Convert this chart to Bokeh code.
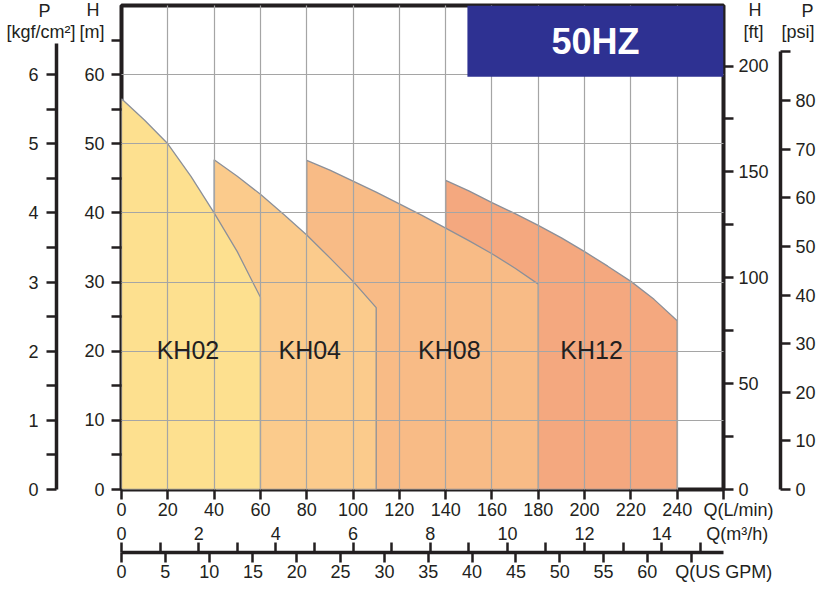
from bokeh.plotting import figure
from bokeh.models import Range1d, LinearAxis, FixedTicker, BoxAnnotation, Label
from bokeh.embed import file_html
from bokeh.resources import INLINE

# ---------------- data ----------------
kh02_q = [0, 10, 20, 30, 40, 50, 60]
kh02_h = [56.5, 53.4, 50.0, 45.3, 40.0, 34.4, 27.8]
kh04_q = [40, 50, 60, 70, 80, 90, 100, 110]
kh04_h = [47.7, 45.3, 42.7, 39.8, 36.8, 33.5, 30.1, 26.3]
kh08_q = [80, 90, 100, 110, 120, 130, 140, 150, 160, 170, 180]
kh08_h = [47.6, 46.2, 44.6, 43.0, 41.3, 39.6, 37.8, 36.0, 34.1, 32.0, 29.7]
kh12_q = [140, 150, 160, 170, 180, 190, 200, 210, 220, 230, 240]
kh12_h = [44.7, 43.2, 41.5, 39.9, 38.2, 36.4, 34.4, 32.3, 30.1, 27.5, 24.4]

series_names = ["KH02", "KH04", "KH08", "KH12"]
series_colors = ["#FDE08F", "#FBCB8C", "#F8BB86", "#F4A87F"]
label_q = [28.7, 81.3, 141.6, 203.0]
label_h = [20.2, 20.2, 20.2, 20.2]

q_lmin_ticks = [0, 20, 40, 60, 80, 100, 120, 140, 160, 180, 200, 220, 240, 260]
h_m_ticks = [0, 10, 20, 30, 40, 50, 60]
h_m_marks = [0, 5, 10, 15, 20, 25, 30, 35, 40, 45, 50, 55, 60, 65]
p_kgf_ticks = [0, 1, 2, 3, 4, 5, 6]
p_kgf_minor = [0.5, 1.5, 2.5, 3.5, 4.5, 5.5]
h_ft_ticks = [0, 50, 100, 150, 200]
h_ft_marks = [0, 25, 50, 75, 100, 125, 150, 175, 200]
p_psi_ticks = [0, 10, 20, 30, 40, 50, 60, 70, 80, 90]
q_m3h_ticks = [0, 1, 2, 3, 4, 5, 6, 7, 8, 9, 10, 11, 12, 13, 14, 15]
q_m3h_labels = [0, 2, 4, 6, 8, 10, 12, 14]
q_gpm_ticks = [0, 5, 10, 15, 20, 25, 30, 35, 40, 45, 50, 55, 60, 65]

# axis titles (two lines each, placed at these heights in m)
title_h = [69.4, 66.2]
NB = "\u00a0"

# unit conversions
Q_MAX = 260.0          # L/min
H_MAX = 70.0           # m
LMIN_PER_M3H = 1000.0 / 60.0
LMIN_PER_GPM = 3.78541
M_PER_KGF = 10.0
FT_TOP = 228.6
PSI_PER_M = 1.42233

INK = "#231F20"
FONT = "Liberation Sans"
FS = "18px"

p = figure(width=819, height=584, x_range=Range1d(0, Q_MAX), y_range=Range1d(0, H_MAX),
           output_backend="svg", toolbar_location=None,
           min_border_left=121, min_border_right=96, min_border_top=5, min_border_bottom=94)
p.background_fill_color = "white"
p.border_fill_color = "white"
p.outline_line_color = INK
p.outline_line_width = 4
p.outline_line_alpha = 1.0

p.extra_y_ranges = {
    "kgf": Range1d(0, H_MAX / M_PER_KGF),
    "ft": Range1d(0, FT_TOP),
    "psi": Range1d(0, H_MAX * PSI_PER_M),
}
p.extra_x_ranges = {
    "m3h": Range1d(0, Q_MAX / LMIN_PER_M3H),
    "gpm": Range1d(0, Q_MAX / LMIN_PER_GPM),
}

# ---------------- grid ----------------
p.xgrid.ticker = FixedTicker(ticks=q_lmin_ticks)
p.ygrid.ticker = FixedTicker(ticks=h_m_ticks + [70])
for g in (p.xgrid[0], p.ygrid[0]):
    g.grid_line_color = "#A5A5A5"
    g.grid_line_width = 1.2
    g.level = "annotation"


def style_axis(ax, standoff):
    ax.major_label_text_font = FONT
    ax.major_label_text_font_size = FS
    ax.major_label_text_color = INK
    ax.major_label_standoff = standoff
    ax.major_tick_line_color = INK
    ax.minor_tick_line_color = INK
    ax.major_tick_line_width = 2.5
    ax.minor_tick_line_width = 2.5
    ax.major_tick_in = 0
    ax.minor_tick_in = 0
    ax.major_tick_out = 10
    ax.minor_tick_out = 10
    ax.axis_line_color = INK
    ax.axis_line_width = 3.5


def spacer(size, **kw):
    return LinearAxis(ticker=FixedTicker(ticks=[0]), major_label_overrides={0: ""},
                      major_label_text_font_size="0px",
                      major_label_standoff=0, major_tick_out=size, major_tick_in=0,
                      minor_tick_out=0, major_tick_line_color=None, minor_tick_line_color=None,
                      axis_line_color=None, **kw)


def title_axis(labels, standoff, **kw):
    ax = LinearAxis(ticker=FixedTicker(ticks=title_h),
                    major_label_overrides=dict(zip(title_h, labels)), **kw)
    style_axis(ax, standoff)
    ax.axis_line_color = None
    ax.major_tick_out = 0
    ax.minor_tick_out = 0
    ax.major_tick_line_color = None
    ax.minor_tick_line_color = None
    return ax


# ---------------- left axes ----------------
ay = p.yaxis[0]
ay.ticker = FixedTicker(ticks=h_m_ticks + title_h, minor_ticks=h_m_marks)
ay.major_label_overrides = {title_h[0]: "H" + NB, title_h[1]: "[m]"}
style_axis(ay, 7)
ay.axis_line_color = None
ay.major_tick_line_color = None

p.add_layout(spacer(20), "left")

ak = LinearAxis(y_range_name="kgf", ticker=FixedTicker(ticks=p_kgf_ticks, minor_ticks=p_kgf_minor),
                bounds=(0, 6.45))
style_axis(ak, 8)
p.add_layout(ak, "left")

p.add_layout(title_axis(["P" + NB * 5, "[kgf/cm²]"], -50), "left")

# ---------------- right axes ----------------
ft_title = [v * FT_TOP / H_MAX for v in title_h]
af = LinearAxis(y_range_name="ft", ticker=FixedTicker(ticks=h_ft_ticks + ft_title, minor_ticks=h_ft_marks),
                major_label_overrides={ft_title[0]: NB * 2 + "H", ft_title[1]: NB + "[ft]"})
style_axis(af, 5)
af.axis_line_color = None
af.major_tick_line_color = None
p.add_layout(af, "right")

p.add_layout(spacer(9), "right")

ap = LinearAxis(y_range_name="psi", ticker=FixedTicker(ticks=p_psi_ticks), bounds=(0, 90),
                major_label_overrides={90: ""})
style_axis(ap, 5)
p.add_layout(ap, "right")

p.add_layout(title_axis([NB * 4 + "P", "[psi]"], -37), "right")

# ---------------- bottom axes ----------------
ax = p.xaxis[0]
ax.ticker = FixedTicker(ticks=q_lmin_ticks)
ax.major_label_overrides = {260: NB * 6 + "Q(L/min)"}
style_axis(ax, 0)
ax.axis_line_color = None

am = LinearAxis(x_range_name="m3h", ticker=FixedTicker(ticks=q_m3h_labels + [15.5]),
                major_label_overrides={15.5: NB * 7 + "Q(m³/h)"})
style_axis(am, 1)
am.axis_line_color = None
am.major_tick_out = 0
am.minor_tick_out = 0
am.major_tick_line_color = None
am.minor_tick_line_color = None
p.add_layout(am, "below")

p.add_layout(spacer(6), "below")

gpm_minor = [v * LMIN_PER_M3H / LMIN_PER_GPM for v in q_m3h_ticks]
ag = LinearAxis(x_range_name="gpm", ticker=FixedTicker(ticks=q_gpm_ticks, minor_ticks=gpm_minor),
                major_label_overrides={65: NB * 13 + "Q(US GPM)"})
style_axis(ag, -1)
ag.minor_tick_in = 10
ag.minor_tick_out = 0
p.add_layout(ag, "below")

# ---------------- curves ----------------
qs = [kh02_q, kh04_q, kh08_q, kh12_q]
hs = [kh02_h, kh04_h, kh08_h, kh12_h]
for i in [3, 2, 1, 0]:
    q, h = qs[i], hs[i]
    xs = [q[0]] + q + [q[-1]]
    ys = [0] + h + [0]
    p.patch(xs, ys, fill_color=series_colors[i], fill_alpha=1.0,
            line_color="#8C9099", line_width=1.3)

for name, xq, yh in zip(series_names, label_q, label_h):
    p.add_layout(Label(x=xq, y=yh, text=name, text_align="center", text_baseline="middle",
                       text_font=FONT, text_font_size="25px", text_color=INK))

# ---------------- 50HZ box ----------------
p.add_layout(BoxAnnotation(left=149.4, right=Q_MAX, bottom=59.7, top=H_MAX,
                           fill_color="#2E3192", fill_alpha=1.0, line_color=None))
p.add_layout(Label(x=(149.4 + Q_MAX) / 2, y=(59.7 + H_MAX) / 2, text="50HZ", text_align="center",
                   text_baseline="middle", text_font=FONT, text_font_size="36px",
                   text_font_style="bold", text_color="white"))

open("out.html", "w").write(file_html(p, INLINE))
